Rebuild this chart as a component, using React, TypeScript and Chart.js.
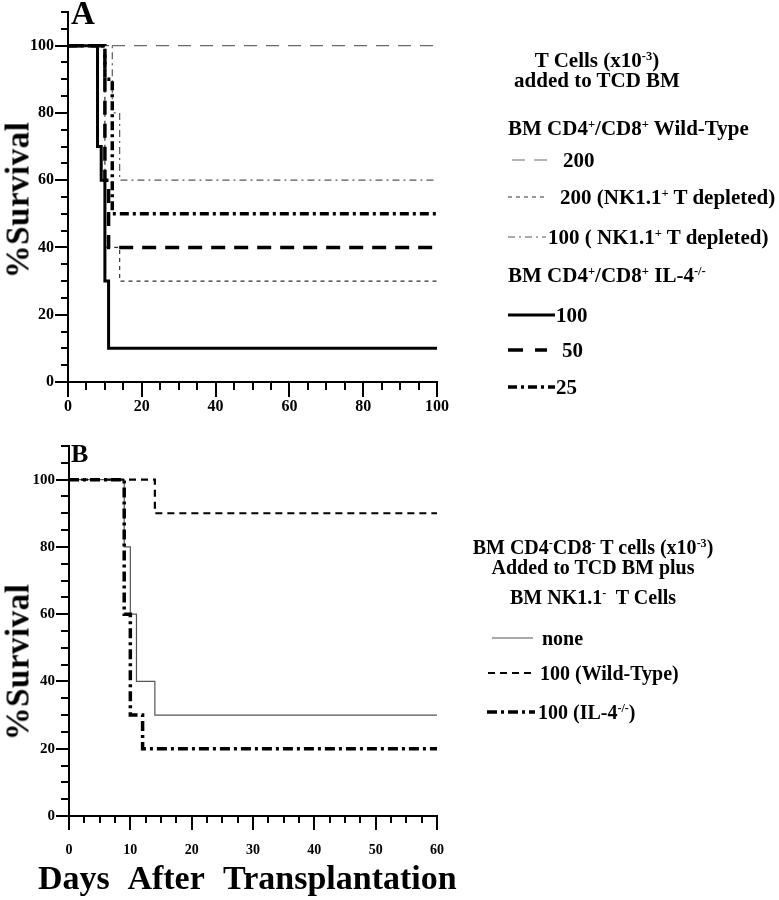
import React, { useEffect, useRef } from "react";
import { Chart, registerables } from "chart.js";

Chart.register(...registerables);

// ---------------- Panel A data (days after transplantation, % survival) ----------------
const aDaysWT200 = [0, 100];
const aSurvWT200 = [100, 100];
const aDaysNK200 = [0, 10, 14, 100];
const aSurvNK200 = [100, 40, 30, 30];
const aDaysNK100 = [0, 12, 14, 100];
const aSurvNK100 = [100, 80, 60, 60];
const aDaysIL100 = [0, 8, 9, 10, 11, 100];
const aSurvIL100 = [100, 70, 60, 30, 10, 10];
const aDaysIL50 = [0, 10, 11, 100];
const aSurvIL50 = [100, 60, 40, 40];
const aDaysIL25 = [0, 10, 12, 100];
const aSurvIL25 = [100, 90, 50, 50];

// ---------------- Panel B data ----------------
const bDaysNone = [0, 9, 10, 11, 14, 60];
const bSurvNone = [100, 80, 60, 40, 30, 30];
const bDaysWT = [0, 14, 60];
const bSurvWT = [100, 90, 90];
const bDaysIL = [0, 9, 10, 12, 60];
const bSurvIL = [100, 60, 30, 20, 20];

// ---------------- Tick labels ----------------
const yTickLabels = [0, 20, 40, 60, 80, 100];
const aXTickLabels = [0, 20, 40, 60, 80, 100];
const bXTickLabels = [0, 10, 20, 30, 40, 50, 60];

const SERIF = "'Liberation Serif', 'Times New Roman', serif";

type Style = { color: string; width: number; dash: number[] };

const ST = {
  aWT200: { color: "#6a6a6a", width: 1.2, dash: [13, 9] },
  aNK200: { color: "#333", width: 1.2, dash: [4, 4] },
  aNK100: { color: "#555", width: 1.2, dash: [7, 4, 2, 4] },
  aIL100: { color: "#000", width: 3, dash: [] },
  aIL50: { color: "#000", width: 3.5, dash: [14, 9] },
  aIL25: { color: "#000", width: 3.5, dash: [9, 4, 3, 4] },
  bNone: { color: "#555", width: 1.2, dash: [] },
  bWT: { color: "#000", width: 2.2, dash: [7, 5] },
  bIL: { color: "#000", width: 3.5, dash: [10, 4, 3, 4] },
};

function ds(label: string, days: number[], surv: number[], s: Style) {
  return {
    label,
    data: days.map((d, i) => ({ x: d, y: surv[i] })),
    stepped: true,
    borderColor: s.color,
    borderWidth: s.width,
    borderDash: s.dash,
    borderCapStyle: "butt",
    borderJoinStyle: "miter",
    pointRadius: 0,
    fill: false,
  };
}

const tickPlugin = {
  id: "customTicks",
  afterDraw(chart: any, _args: any, opts: any) {
    const { ctx, chartArea } = chart;
    const xs = chart.scales.x;
    const ys = chart.scales.y;
    ctx.save();
    ctx.strokeStyle = "#000";
    ctx.lineWidth = 2;
    ctx.beginPath();
    xs.ticks.forEach((t: any) => {
      const px = Math.round(xs.getPixelForValue(t.value));
      const major = opts.xLabels.includes(t.value);
      const len = major ? opts.xMajor : opts.xMinor;
      ctx.moveTo(px, chartArea.bottom);
      ctx.lineTo(px, chartArea.bottom + len);
    });
    ys.ticks.forEach((t: any) => {
      const py = Math.round(ys.getPixelForValue(t.value));
      const major = opts.yLabels.includes(t.value);
      const len = major ? opts.yMajor : opts.yMinor;
      ctx.moveTo(chartArea.left, py);
      ctx.lineTo(chartArea.left - len, py);
    });
    ctx.stroke();
    ctx.restore();
  },
};

type PanelProps = {
  width: number;
  height: number;
  area: { left: number; top: number; right: number; bottom: number };
  datasets: any[];
  xMax: number;
  xStep: number;
  xLabels: number[];
  xFont: number;
  yFont: number;
  xPad: number;
  yPad: number;
  lens: { xMajor: number; xMinor: number; yMajor: number; yMinor: number };
  style: React.CSSProperties;
};

function Panel(p: PanelProps) {
  const ref = useRef<HTMLCanvasElement | null>(null);
  useEffect(() => {
    if (!ref.current) return;
    const chart = new Chart(ref.current, {
      type: "line",
      data: { datasets: p.datasets },
      plugins: [tickPlugin],
      options: {
        responsive: false,
        animation: false,
        devicePixelRatio: 1,
        layout: {
          padding: { left: 0, top: p.area.top, right: p.width - p.area.right, bottom: 0 },
        },
        plugins: {
          legend: { display: false },
          tooltip: { enabled: false },
          customTicks: { ...p.lens, xLabels: p.xLabels, yLabels: yTickLabels },
        } as any,
        scales: {
          x: {
            type: "linear",
            min: 0,
            max: p.xMax,
            ticks: {
              stepSize: p.xStep,
              autoSkip: false,
              maxRotation: 0,
              padding: p.xPad,
              color: "#000",
              font: { family: SERIF, size: p.xFont, weight: "bold" },
              callback: (v: any) => (p.xLabels.includes(Number(v)) ? String(v) : ""),
            },
            grid: { display: true, drawOnChartArea: false, drawTicks: false },
            border: { display: true, color: "#000", width: 2 },
            afterFit: (s: any) => {
              s.height = p.height - p.area.bottom;
              s.paddingLeft = 0;
              s.paddingRight = 0;
            },
          },
          y: {
            type: "linear",
            min: 0,
            max: 110,
            ticks: {
              stepSize: 5,
              autoSkip: false,
              padding: p.yPad,
              color: "#000",
              font: { family: SERIF, size: p.yFont, weight: "bold" },
              callback: (v: any) => (yTickLabels.includes(Number(v)) ? String(v) : ""),
            },
            grid: { display: true, drawOnChartArea: false, drawTicks: false },
            border: { display: true, color: "#000", width: 2 },
            afterFit: (s: any) => {
              s.width = p.area.left;
              s.paddingTop = 0;
              s.paddingBottom = 0;
            },
          },
        },
      } as any,
    });
    return () => chart.destroy();
  }, []);
  return <canvas ref={ref} width={p.width} height={p.height} style={p.style} />;
}

const sup: React.CSSProperties = { fontSize: "0.6em", verticalAlign: "0.55em", lineHeight: 0 };

function Txt(props: { x: number; cy: number; size?: number; center?: boolean; w?: number; children: any }) {
  const size = props.size ?? 20;
  const st: React.CSSProperties = {
    position: "absolute",
    left: props.x,
    top: props.cy - size / 2,
    fontFamily: SERIF,
    fontWeight: "bold",
    fontSize: size,
    lineHeight: size + "px",
    whiteSpace: "nowrap",
    color: "#000",
  };
  if (props.center) {
    st.width = props.w;
    st.textAlign = "center";
  }
  return <div style={st}>{props.children}</div>;
}

function Sample(props: { x1: number; x2: number; y: number; s: Style }) {
  return (
    <line
      x1={props.x1}
      x2={props.x2}
      y1={props.y}
      y2={props.y}
      stroke={props.s.color}
      strokeWidth={props.s.width}
      strokeDasharray={props.s.dash.length ? props.s.dash.join(" ") : undefined}
    />
  );
}

function YTitle(props: { cx: number; cy: number }) {
  return (
    <div
      style={{
        position: "absolute",
        left: props.cx,
        top: props.cy,
        transform: "translate(-50%, -50%) rotate(-90deg)",
        fontFamily: SERIF,
        fontWeight: "bold",
        fontSize: 33,
        lineHeight: "33px",
        whiteSpace: "nowrap",
        letterSpacing: "0.5px",
      }}
    >
      %Survival
    </div>
  );
}

export default function App() {
  const aSets = [
    ds("BM CD4+/CD8+ IL-4-/- 100", aDaysIL100, aSurvIL100, ST.aIL100),
    ds("BM CD4+/CD8+ IL-4-/- 50", aDaysIL50, aSurvIL50, ST.aIL50),
    ds("BM CD4+/CD8+ IL-4-/- 25", aDaysIL25, aSurvIL25, ST.aIL25),
    ds("Wild-Type 100 (NK1.1+ T depleted)", aDaysNK100, aSurvNK100, ST.aNK100),
    ds("Wild-Type 200 (NK1.1+ T depleted)", aDaysNK200, aSurvNK200, ST.aNK200),
    ds("Wild-Type 200", aDaysWT200, aSurvWT200, ST.aWT200),
  ];
  const bSets = [
    ds("100 (IL-4-/-)", bDaysIL, bSurvIL, ST.bIL),
    ds("100 (Wild-Type)", bDaysWT, bSurvWT, ST.bWT),
    ds("none", bDaysNone, bSurvNone, ST.bNone),
  ];

  return (
    <div style={{ position: "absolute", left: 0, top: 0, width: 779, height: 900, background: "#fff", overflow: "hidden" }}>
      <Panel
        width={460}
        height={420}
        area={{ left: 68, top: 12, right: 437, bottom: 382 }}
        datasets={aSets}
        xMax={100}
        xStep={5}
        xLabels={aXTickLabels}
        xFont={16}
        yFont={16}
        xPad={15}
        yPad={14}
        lens={{ xMajor: 15, xMinor: 8, yMajor: 13, yMinor: 7 }}
        style={{ position: "absolute", left: 0, top: 0 }}
      />
      <Panel
        width={460}
        height={440}
        area={{ left: 69, top: 16, right: 437, bottom: 386 }}
        datasets={bSets}
        xMax={60}
        xStep={2.5}
        xLabels={bXTickLabels}
        xFont={14}
        yFont={15}
        xPad={26}
        yPad={14}
        lens={{ xMajor: 14, xMinor: 7, yMajor: 13, yMinor: 8 }}
        style={{ position: "absolute", left: 0, top: 430 }}
      />

      {/* panel letters */}
      <div style={{ position: "absolute", left: 71, top: -3, fontFamily: SERIF, fontWeight: "bold", fontSize: 33, lineHeight: "33px" }}>A</div>
      <div style={{ position: "absolute", left: 71, top: 441, fontFamily: SERIF, fontWeight: "bold", fontSize: 26, lineHeight: "26px" }}>B</div>

      <YTitle cx={18} cy={200} />
      <YTitle cx={18} cy={662} />

      <div
        style={{
          position: "absolute",
          left: 38,
          top: 861,
          fontFamily: SERIF,
          fontWeight: "bold",
          fontSize: 34,
          lineHeight: "34px",
          wordSpacing: "11px",
          whiteSpace: "nowrap",
        }}
      >
        Days After Transplantation
      </div>

      {/* legend samples */}
      <svg width={779} height={900} style={{ position: "absolute", left: 0, top: 0, pointerEvents: "none" }}>
        <Sample x1={512} x2={547} y={160} s={ST.aWT200} />
        <Sample x1={508} x2={547} y={197} s={ST.aNK200} />
        <Sample x1={508} x2={546} y={237} s={ST.aNK100} />
        <Sample x1={508} x2={555} y={315} s={ST.aIL100} />
        <Sample x1={508} x2={547} y={350} s={{ ...ST.aIL50, dash: [15, 12] }} />
        <Sample x1={508} x2={555} y={387} s={ST.aIL25} />
        <Sample x1={492} x2={533} y={638} s={ST.bNone} />
        <Sample x1={488} x2={535} y={673} s={ST.bWT} />
        <Sample x1={487} x2={535} y={712} s={ST.bIL} />
      </svg>

      {/* legend A */}
      <Txt x={447} cy={60} center w={300} size={21}>T Cells (x10<span style={sup}>-3</span>)</Txt>
      <Txt x={447} cy={80} center w={300} size={21}>added to TCD BM</Txt>
      <Txt x={508} cy={128} size={21}>BM CD4<span style={sup}>+</span>/CD8<span style={sup}>+</span> Wild-Type</Txt>
      <Txt x={563} cy={160} size={21}>200</Txt>
      <Txt x={560} cy={197} size={21}>200 (NK1.1<span style={sup}>+</span> T depleted)</Txt>
      <Txt x={548} cy={237} size={21}>100 ( NK1.1<span style={sup}>+</span> T depleted)</Txt>
      <Txt x={508} cy={275} size={21}>BM CD4<span style={sup}>+</span>/CD8<span style={sup}>+</span> IL-4<span style={sup}>-/-</span></Txt>
      <Txt x={556} cy={315} size={21}>100</Txt>
      <Txt x={562} cy={350} size={21}>50</Txt>
      <Txt x={556} cy={387} size={21}>25</Txt>

      {/* legend B */}
      <Txt x={443} cy={547} center w={300}>BM CD4<span style={sup}>-</span>CD8<span style={sup}>-</span> T cells (x10<span style={sup}>-3</span>)</Txt>
      <Txt x={443} cy={567} center w={300}>Added to TCD BM plus</Txt>
      <Txt x={443} cy={597} center w={300}>BM NK1.1<span style={sup}>-</span>&nbsp; T Cells</Txt>
      <Txt x={542} cy={638}>none</Txt>
      <Txt x={540} cy={673}>100 (Wild-Type)</Txt>
      <Txt x={538} cy={712}>100 (IL-4<span style={sup}>-/-</span>)</Txt>
    </div>
  );
}
